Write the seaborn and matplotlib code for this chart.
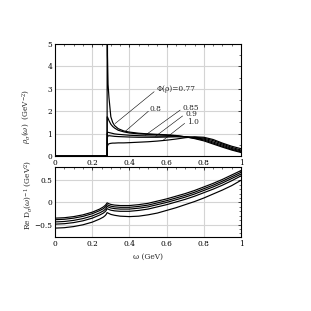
import numpy as np
import pandas as pd
import matplotlib
matplotlib.use("Agg")
import matplotlib.pyplot as plt
import seaborn as sns
from matplotlib.ticker import MultipleLocator

# ---------------- data ----------------
phi_labels = ["0.77", "0.8", "0.85", "0.9", "1.0"]

omega_top = [0.0, 0.28, 0.2801, 0.282, 0.285, 0.29, 0.30, 0.31, 0.32, 0.34, 0.37,
             0.40, 0.45, 0.50, 0.55, 0.60, 0.65, 0.70, 0.75, 0.80, 0.85, 0.90, 0.95, 1.00]
rho_077 = [0, 0, 9.0, 4.5, 3.2, 2.6, 1.75, 1.5, 1.36, 1.22, 1.12, 1.07, 1.02, 0.99,
           0.97, 0.95, 0.92, 0.86, 0.78, 0.68, 0.54, 0.40, 0.27, 0.16]
rho_080 = [0, 0, 1.75, 1.74, 1.68, 1.58, 1.42, 1.32, 1.25, 1.15, 1.08, 1.03, 0.99, 0.97,
           0.95, 0.93, 0.91, 0.86, 0.80, 0.72, 0.58, 0.44, 0.30, 0.19]
rho_085 = [0, 0, 1.0, 1.05, 1.06, 1.05, 1.03, 1.01, 0.99, 0.97, 0.95, 0.93, 0.91, 0.90,
           0.89, 0.89, 0.88, 0.86, 0.82, 0.76, 0.63, 0.49, 0.34, 0.23]
rho_090 = [0, 0, 0.75, 0.85, 0.90, 0.91, 0.90, 0.89, 0.88, 0.87, 0.86, 0.85, 0.84, 0.84,
           0.84, 0.85, 0.86, 0.86, 0.84, 0.80, 0.69, 0.54, 0.39, 0.27]
rho_100 = [0, 0, 0.34, 0.45, 0.52, 0.55, 0.57, 0.58, 0.58, 0.59, 0.59, 0.60, 0.62, 0.64,
           0.67, 0.71, 0.76, 0.82, 0.86, 0.84, 0.74, 0.58, 0.44, 0.33]

omega_bot = [0.0, 0.05, 0.10, 0.15, 0.20, 0.24, 0.26, 0.27, 0.275, 0.28, 0.29, 0.30, 0.32,
             0.35, 0.40, 0.45, 0.50, 0.55, 0.60, 0.65, 0.70, 0.75, 0.80, 0.85, 0.90, 0.95, 1.00]
red_077 = [-0.355, -0.345, -0.32, -0.28, -0.22, -0.15, -0.10, -0.065, -0.04, -0.01, -0.03,
           -0.045, -0.06, -0.07, -0.07, -0.05, -0.02, 0.03, 0.08, 0.14, 0.20, 0.27, 0.35,
           0.43, 0.52, 0.62, 0.72]
red_080 = [-0.39, -0.38, -0.355, -0.315, -0.255, -0.185, -0.14, -0.105, -0.08, -0.05, -0.07,
           -0.085, -0.10, -0.11, -0.11, -0.09, -0.06, -0.01, 0.04, 0.10, 0.16, 0.23, 0.31,
           0.39, 0.48, 0.58, 0.68]
red_085 = [-0.44, -0.43, -0.405, -0.365, -0.305, -0.235, -0.19, -0.155, -0.13, -0.09, -0.11,
           -0.125, -0.14, -0.15, -0.15, -0.13, -0.10, -0.05, 0.0, 0.06, 0.12, 0.19, 0.27,
           0.35, 0.44, 0.54, 0.64]
red_090 = [-0.49, -0.48, -0.455, -0.415, -0.355, -0.285, -0.24, -0.205, -0.18, -0.14, -0.16,
           -0.175, -0.19, -0.20, -0.20, -0.18, -0.15, -0.10, -0.05, 0.01, 0.07, 0.14, 0.22,
           0.30, 0.39, 0.49, 0.60]
red_100 = [-0.58, -0.57, -0.545, -0.505, -0.445, -0.375, -0.33, -0.295, -0.27, -0.23, -0.25,
           -0.27, -0.29, -0.31, -0.32, -0.31, -0.28, -0.24, -0.18, -0.12, -0.05, 0.02, 0.10,
           0.19, 0.28, 0.38, 0.50]

xticks = [0, 0.2, 0.4, 0.6, 0.8, 1.0]
xticklabels = ["0", "0.2", "0.4", "0.6", "0.8", "1"]
yticks_top = [0, 1, 2, 3, 4, 5]
yticks_bot = [-0.5, 0, 0.5]
yticklabels_bot = ["\u22120.5", "0", "0.5"]

annot_text = ["\u03a6(\u03c1)=0.77", "0.8", "0.85", "0.9", "1.0"]

# --------------- build frames ---------------
top_series = [rho_077, rho_080, rho_085, rho_090, rho_100]
bot_series = [red_077, red_080, red_085, red_090, red_100]
df_top = pd.concat([pd.DataFrame({"omega": omega_top, "val": s, "phi": p})
                    for s, p in zip(top_series, phi_labels)], ignore_index=True)
df_bot = pd.concat([pd.DataFrame({"omega": omega_bot, "val": s, "phi": p})
                    for s, p in zip(bot_series, phi_labels)], ignore_index=True)

# --------------- plotting ---------------
sns.set_theme(style="white")
plt.rcParams["font.family"] = ["DejaVu Serif", "DejaVu Sans"]
plt.rcParams["mathtext.fontset"] = "dejavuserif"

fs = 5.3
gridc = "#d4d4d4"
fig = plt.figure(figsize=(3.11, 3.11), dpi=100)
ax1 = fig.add_axes([0.177, 0.498, 0.598, 0.361])
ax2 = fig.add_axes([0.177, 0.238, 0.598, 0.225])

pal = {p: "black" for p in phi_labels}
sns.lineplot(data=df_top, x="omega", y="val", hue="phi", palette=pal, units="phi",
             estimator=None, sort=False, legend=False, ax=ax1, linewidth=0.85)
sns.lineplot(data=df_bot, x="omega", y="val", hue="phi", palette=pal, units="phi",
             estimator=None, sort=False, legend=False, ax=ax2, linewidth=0.85)

for ax in (ax1, ax2):
    ax.set_xlim(0, 1)
    ax.set_xticks(xticks)
    ax.set_xticklabels(xticklabels, fontsize=fs)
    ax.xaxis.set_minor_locator(MultipleLocator(0.05))
    ax.tick_params(which="both", direction="in", top=True, right=True, colors="black",
                   labelsize=fs, pad=2)
    ax.tick_params(which="major", length=2.5, width=0.5)
    ax.tick_params(which="minor", length=1.3, width=0.4)
    for sp in ax.spines.values():
        sp.set_linewidth(0.8)
        sp.set_color("black")
    for x in [0.2, 0.4, 0.6, 0.8]:
        ax.axvline(x, color=gridc, lw=0.8, zorder=0)

ax1.set_ylim(0, 5)
ax1.set_yticks(yticks_top)
ax1.set_yticklabels([str(v) for v in yticks_top], fontsize=fs)
ax1.yaxis.set_minor_locator(MultipleLocator(0.5))
for y in [1, 2, 3, 4]:
    ax1.axhline(y, color=gridc, lw=0.8, zorder=0)

ax2.set_ylim(-0.78, 0.8)
ax2.set_yticks(yticks_bot)
ax2.set_yticklabels(yticklabels_bot, fontsize=fs)
ax2.yaxis.set_minor_locator(MultipleLocator(0.1))
for y in [-0.5, 0, 0.5]:
    ax2.axhline(y, color=gridc, lw=0.8, zorder=0)

ax1.set_xlabel("")
ax2.set_xlabel("\u03c9 (GeV)", fontsize=fs)
ax1.set_ylabel(r"$\rho_\sigma(\omega)$  (GeV$^{-2}$)", fontsize=fs)
ax2.set_ylabel(r"Re D$_\sigma(\omega)^{-1}$ (GeV$^{2}$)", fontsize=fs)
ax1.yaxis.set_label_coords(-0.115, 0.35)
ax2.yaxis.set_label_coords(-0.115, 0.6)

txt_pos = [(0.545, 2.98), (0.51, 2.1), (0.685, 2.16), (0.70, 1.86), (0.71, 1.53)]
lead_start = [(0.533, 2.87), (0.502, 2.0), (0.673, 2.05), (0.686, 1.79), (0.697, 1.46)]
lead_end = [(0.323, 1.45), (0.38, 1.12), (0.485, 0.93), (0.54, 0.88), (0.583, 0.72)]
for t, tp, ls, le in zip(annot_text, txt_pos, lead_start, lead_end):
    ax1.text(tp[0], tp[1], t, fontsize=fs, va="center", ha="left")
    ax1.plot([ls[0], le[0]], [ls[1], le[1]], color="black", lw=0.4)

fig.savefig("out.png", dpi=100)
